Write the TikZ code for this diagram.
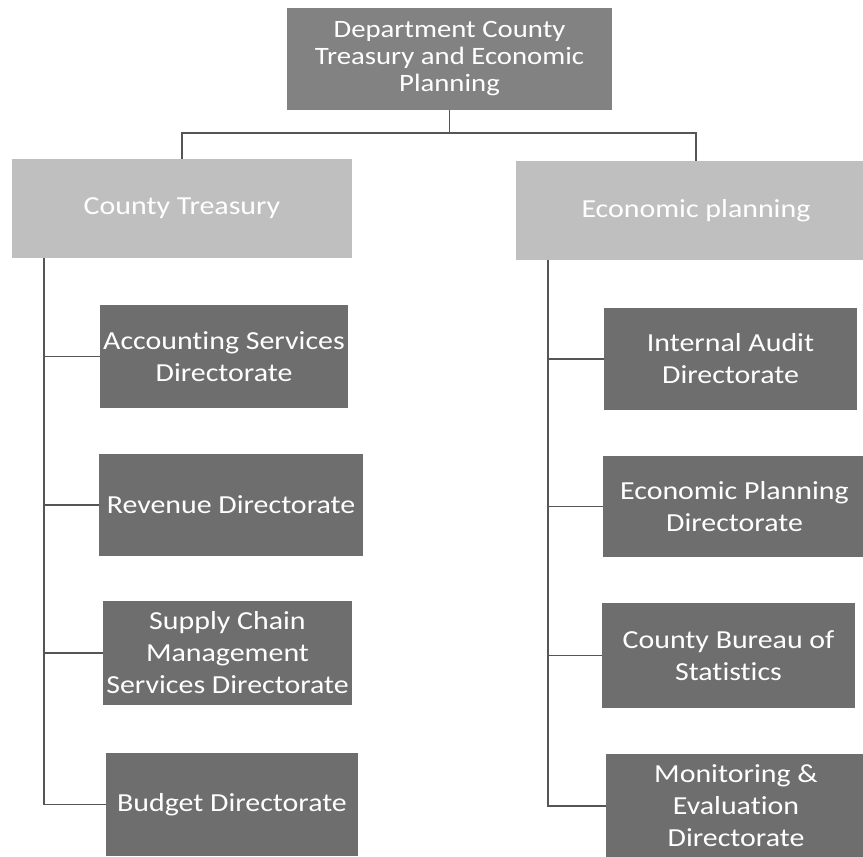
\documentclass[tikz,border=0pt]{standalone}
\usepackage{fontspec}
\setmainfont[FakeStretch=1.15, Ligatures={NoCommon}]{Carlito}
\definecolor{topgray}{HTML}{828282}
\definecolor{midgray}{HTML}{BFBFBF}
\definecolor{dirgray}{HTML}{6E6E6E}
\definecolor{linegray}{HTML}{555555}
\begin{document}
\begin{tikzpicture}[x=1pt,y=-1pt,
  boxbase/.style={rectangle, inner sep=1pt, text=white, align=center},
  topbox/.style={boxbase, fill=topgray, font=\fontsize{25}{27}\selectfont},
  midbox/.style={boxbase, fill=midgray, font=\fontsize{26}{31}\selectfont},
  dirbox/.style={boxbase, fill=dirgray, font=\fontsize{26}{32}\selectfont},
  conn/.style={draw=linegray, line width=1.4pt}]
\useasboundingbox[fill=white] (0,0) rectangle (863,857);

\node[topbox, minimum width=325pt, minimum height=102pt] (top) at (449.5,59)
  {Department County\\Treasury and Economic\\Planning};
\node[midbox, minimum width=340pt, minimum height=99pt] (ct) at (182,208.5) {County Treasury};
\node[midbox, minimum width=360pt, minimum height=99pt] (ep) at (696,210.5) {Economic planning};

\node[dirbox, minimum width=248pt, minimum height=103pt] (acc) at (224,356.5) {Accounting Services\\Directorate};
\node[dirbox, minimum width=264pt, minimum height=102pt] (rev) at (231,505) {Revenue Directorate};
\node[dirbox, minimum width=249pt, minimum height=104pt] (sup) at (227.5,653) {Supply Chain\\Management\\Services Directorate};
\node[dirbox, minimum width=252pt, minimum height=103pt] (bud) at (232,804.5) {Budget Directorate};

\node[dirbox, minimum width=253pt, minimum height=102pt] (ia) at (730.5,359) {Internal Audit\\Directorate};
\node[dirbox, minimum width=263pt, minimum height=101pt] (epd) at (734.5,506.5) {Economic Planning\\Directorate};
\node[dirbox, minimum width=253pt, minimum height=105pt] (cbs) at (728.5,655.5) {County Bureau of\\Statistics};
\node[dirbox, minimum width=260pt, minimum height=104pt] (me) at (736,806) {Monitoring \&\\Evaluation\\Directorate};

\coordinate (hb) at (449.5,133);
\draw[conn] (top.south) -- (hb);
\draw[conn] (ct.north) |- (hb) -| (ep.north);

\coordinate (lt) at (44,258);
\coordinate (rt) at (548,260);
\draw[conn] (lt) |- (bud.west);
\draw[conn] (lt |- acc.west) -- (acc.west);
\draw[conn] (lt |- rev.west) -- (rev.west);
\draw[conn] (lt |- sup.west) -- (sup.west);
\draw[conn] (rt) |- (me.west);
\draw[conn] (rt |- ia.west) -- (ia.west);
\draw[conn] (rt |- epd.west) -- (epd.west);
\draw[conn] (rt |- cbs.west) -- (cbs.west);
\end{tikzpicture}
\end{document}
